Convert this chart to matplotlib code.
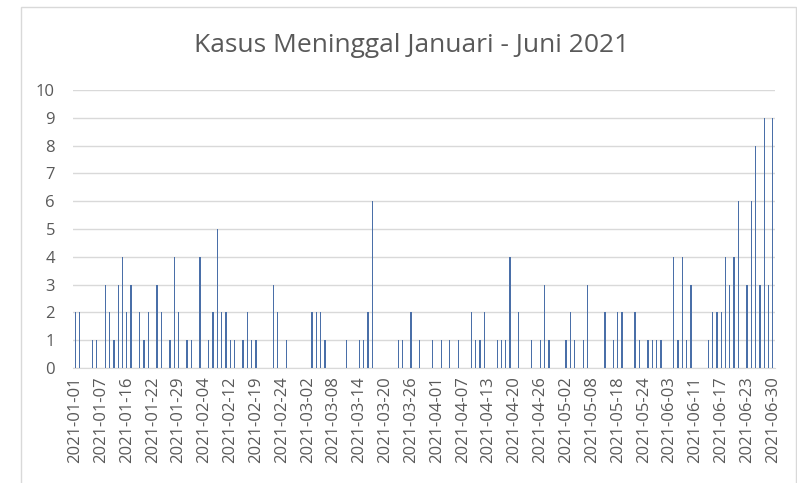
import matplotlib.pyplot as plt
from matplotlib.patches import Rectangle

# one row per label interval (the axis shows every 6th category)
dates = [
    "2021-01-01", "2021-01-02", "2021-01-03", "2021-01-04", "2021-01-05", "2021-01-06",
    "2021-01-07", "2021-01-08", "2021-01-10", "2021-01-11", "2021-01-13", "2021-01-14",
    "2021-01-16", "2021-01-17", "2021-01-18", "2021-01-19", "2021-01-20", "2021-01-21",
    "2021-01-22", "2021-01-23", "2021-01-24", "2021-01-25", "2021-01-26", "2021-01-27",
    "2021-01-29", "2021-01-30", "2021-01-31", "2021-02-01", "2021-02-02", "2021-02-03",
    "2021-02-04", "2021-02-05", "2021-02-06", "2021-02-08", "2021-02-09", "2021-02-10",
    "2021-02-12", "2021-02-13", "2021-02-14", "2021-02-15", "2021-02-16", "2021-02-18",
    "2021-02-19", "2021-02-20", "2021-02-20", "2021-02-21", "2021-02-22", "2021-02-23",
    "2021-02-24", "2021-02-25", "2021-02-26", "2021-02-27", "2021-02-28", "2021-03-01",
    "2021-03-02", "2021-03-03", "2021-03-04", "2021-03-05", "2021-03-06", "2021-03-07",
    "2021-03-08", "2021-03-09", "2021-03-10", "2021-03-11", "2021-03-12", "2021-03-13",
    "2021-03-14", "2021-03-15", "2021-03-16", "2021-03-17", "2021-03-18", "2021-03-19",
    "2021-03-20", "2021-03-21", "2021-03-22", "2021-03-23", "2021-03-24", "2021-03-25",
    "2021-03-26", "2021-03-27", "2021-03-28", "2021-03-29", "2021-03-30", "2021-03-31",
    "2021-04-01", "2021-04-02", "2021-04-03", "2021-04-04", "2021-04-05", "2021-04-06",
    "2021-04-07", "2021-04-08", "2021-04-09", "2021-04-10", "2021-04-11", "2021-04-12",
    "2021-04-13", "2021-04-14", "2021-04-15", "2021-04-16", "2021-04-17", "2021-04-19",
    "2021-04-20", "2021-04-21", "2021-04-22", "2021-04-23", "2021-04-24", "2021-04-25",
    "2021-04-26", "2021-04-27", "2021-04-28", "2021-04-29", "2021-04-30", "2021-05-01",
    "2021-05-02", "2021-05-03", "2021-05-04", "2021-05-05", "2021-05-06", "2021-05-07",
    "2021-05-08", "2021-05-09", "2021-05-10", "2021-05-11", "2021-05-13", "2021-05-15",
    "2021-05-18", "2021-05-19", "2021-05-20", "2021-05-21", "2021-05-22", "2021-05-23",
    "2021-05-24", "2021-05-25", "2021-05-26", "2021-05-27", "2021-05-29", "2021-05-31",
    "2021-06-03", "2021-06-04", "2021-06-05", "2021-06-07", "2021-06-08", "2021-06-09",
    "2021-06-11", "2021-06-12", "2021-06-13", "2021-06-14", "2021-06-15", "2021-06-16",
    "2021-06-17", "2021-06-18", "2021-06-19", "2021-06-20", "2021-06-21", "2021-06-22",
    "2021-06-23", "2021-06-24", "2021-06-25", "2021-06-26", "2021-06-27", "2021-06-29",
    "2021-06-30",
]

deaths = [
    2, 2, 0, 0, 1, 1,
    0, 3, 2, 1, 3, 4,
    2, 3, 0, 2, 1, 2,
    0, 3, 2, 0, 1, 4,
    2, 0, 1, 1, 0, 4,
    0, 1, 2, 5, 2, 2,
    1, 1, 0, 1, 2, 1,
    1, 0, 0, 0, 3, 2,
    0, 1, 0, 0, 0, 0,
    0, 2, 2, 2, 1, 0,
    0, 0, 0, 1, 0, 0,
    1, 1, 2, 6, 0, 0,
    0, 0, 0, 1, 1, 0,
    2, 0, 1, 0, 0, 1,
    0, 1, 0, 1, 0, 1,
    0, 0, 2, 1, 1, 2,
    0, 0, 1, 1, 1, 4,
    0, 2, 0, 0, 1, 0,
    1, 3, 1, 0, 0, 0,
    1, 2, 1, 0, 1, 3,
    0, 0, 0, 2, 0, 1,
    2, 2, 0, 0, 2, 1,
    0, 1, 1, 1, 1, 0,
    0, 4, 1, 4, 1, 3,
    0, 0, 0, 1, 2, 2,
    2, 4, 3, 4, 6, 0,
    3, 6, 8, 3, 9, 3,
    9,
]

label_step = 6

plt.rcParams['font.family'] = ['Open Sans', 'DejaVu Sans']
text_col = "#595959"

fig = plt.figure(figsize=(7.97, 4.83), dpi=100)
ax = fig.add_axes([73 / 797, 1 - 368 / 483, 702 / 797, 278 / 483])

x = list(range(len(dates)))
ax.bar(x, deaths, width=0.3, color="#4A6FA8", linewidth=0, zorder=3)

ax.set_xlim(-0.5, len(dates) - 0.5)
ax.set_ylim(0, 10)
ax.set_yticks(range(0, 11))
ax.set_xticks(x[::label_step])
ax.set_xticklabels(dates[::label_step], rotation=90)
ax.tick_params(axis="both", length=0, colors=text_col)
ax.tick_params(axis="y", pad=13, labelsize=12)
ax.tick_params(axis="x", pad=6, labelsize=12)

ax.grid(axis="y", color="#D9D9D9", linewidth=1, zorder=0)
for s in ["top", "right", "left"]:
    ax.spines[s].set_visible(False)
ax.spines["bottom"].set_color("#D9D9D9")

fig.text(0.517, 1 - 45 / 483, "Kasus Meninggal Januari - Juni 2021",
         ha="center", va="center", fontsize=19, color=text_col)

# chart border
fig.patches.append(Rectangle((21 / 797, -0.01), (796 - 21) / 797, 1 - 7 / 483 + 0.01,
                             transform=fig.transFigure, fill=False,
                             edgecolor="#D9D9D9", linewidth=1))

fig.savefig("out.png", dpi=100)
